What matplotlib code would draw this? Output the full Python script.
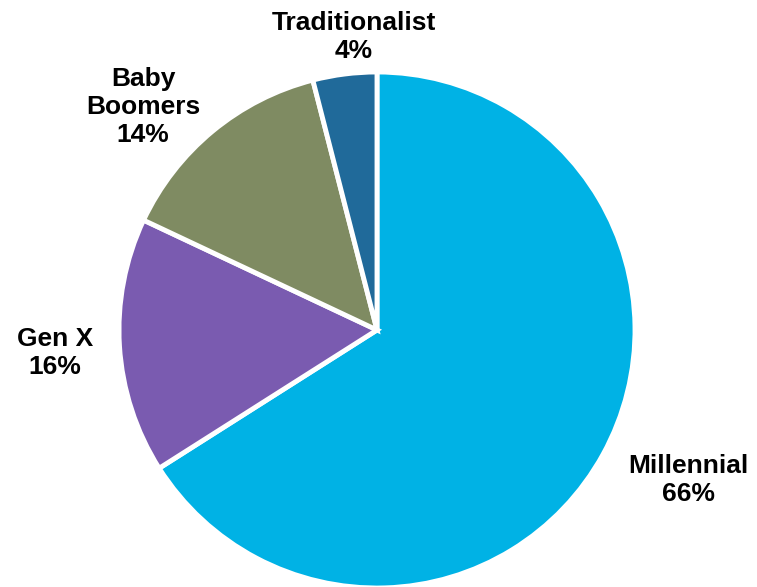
import matplotlib
matplotlib.use('Agg')
import matplotlib.pyplot as plt

# ── DATA ───────────────────────────────────────
labels = ['Millennial', 'Gen X', 'Baby\nBoomers', 'Traditionalist']
shares = [66, 16, 14, 4]
colors = ['#00B2E5', '#7A5BB0', '#7F8B62', '#206A9A']

# label centres in pixels (from the reference)
label_px = [(688, 480), (55, 353), (143, 107), (354, 37)]

W, H = 757, 587
CX, CY, R = 377, 330, 258

fig = plt.figure(figsize=(W / 100, H / 100), dpi=100, facecolor='white')
ax = fig.add_axes([0, 0, 1, 1])
ax.axis('off')

ax.pie(shares, colors=colors, startangle=90, counterclock=False, radius=1,
       wedgeprops=dict(edgecolor='white', linewidth=3.5))

# pie() resets the limits, so set them afterwards
ax.set_xlim(-CX / R, (W - CX) / R)
ax.set_ylim(-(H - CY) / R, CY / R)
ax.set_aspect('equal')

for lbl, val, (px, py) in zip(labels, shares, label_px):
    ax.text((px - CX) / R, (CY - py) / R, f'{lbl}\n{val}%',
            ha='center', va='center', fontsize=19, fontweight='bold',
            family='Liberation Sans', linespacing=1.2, color='black')

fig.savefig('out.png', dpi=100, facecolor='white')
